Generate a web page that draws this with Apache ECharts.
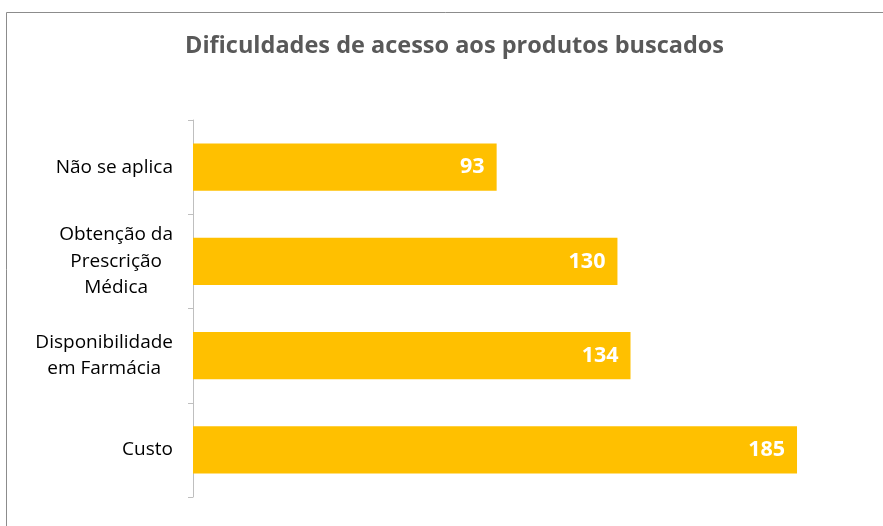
<!DOCTYPE html>
<html>
<head>
<meta charset="utf-8">
<style>
  html, body { margin: 0; padding: 0; background: #fff; }
  #chart { width: 883px; height: 526px; }
</style>
<script src="https://cdn.jsdelivr.net/npm/echarts@6/dist/echarts.min.js"></script>
</head>
<body>
<div id="chart"></div>
<script>
// Categories listed bottom-to-top (ECharts draws the first category at the bottom)
const categories = ['Custo', 'Disponibilidade\nem Farmácia', 'Obtenção da\nPrescrição\nMédica', 'Não se aplica'];
const values = [185, 134, 130, 93];
const chartTitle = 'Dificuldades de acesso aos produtos buscados';

const FONT = '"Open Sans", "Noto Sans", sans-serif';
const chart = echarts.init(document.getElementById('chart'));

chart.setOption({
  animation: false,
  backgroundColor: '#ffffff',
  textStyle: { fontFamily: FONT },
  title: {
    text: chartTitle,
    left: 185,
    top: 34,
    padding: 0,
    textStyle: {
      fontFamily: FONT,
      fontSize: 23.5,
      fontWeight: 'bold',
      color: '#595959'
    }
  },
  graphic: [{
    type: 'rect',
    shape: { x: 6.5, y: 12.5, width: 1000, height: 1000 },
    style: { fill: 'none', stroke: '#8c8c8c', lineWidth: 1 },
    silent: true
  }],
  grid: { left: 193, top: 120, width: 653, height: 377 },
  xAxis: {
    type: 'value',
    min: 0,
    max: 200,
    show: false
  },
  yAxis: {
    type: 'category',
    data: categories,
    axisLine: { show: true, lineStyle: { color: '#bfbfbf', width: 1 } },
    axisTick: { show: true, length: 5, lineStyle: { color: '#bfbfbf' } },
    axisLabel: {
      margin: 20,
      color: '#000000',
      formatter: function (v) {
        return v.split('\n').map(function (l) { return '{c|' + l + '}'; }).join('\n');
      },
      rich: {
        c: { align: 'center', fontSize: 19, lineHeight: 26.5, color: '#000000', fontFamily: FONT }
      }
    }
  },
  series: [{
    type: 'bar',
    data: values,
    barCategoryGap: '50%',
    itemStyle: { color: '#FFC000' },
    label: {
      show: true,
      position: 'insideRight',
      distance: 12,
      color: '#ffffff',
      fontSize: 21.5,
      fontWeight: 'bold',
      fontFamily: FONT
    }
  }]
});
</script>
</body>
</html>
